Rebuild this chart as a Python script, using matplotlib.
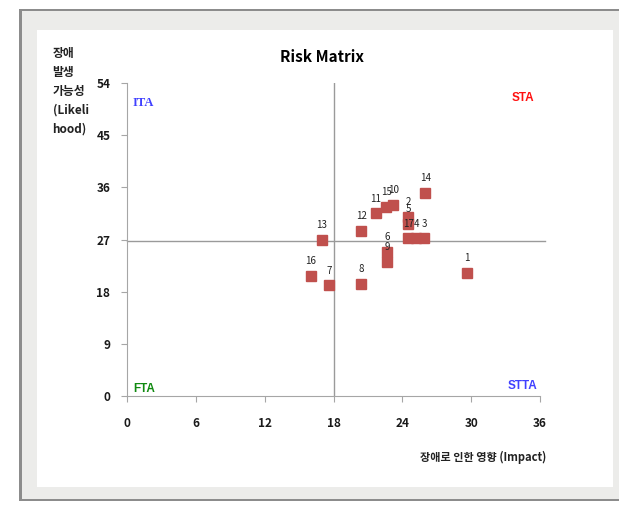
import matplotlib.pyplot as plt
from matplotlib.patches import Rectangle

# risk items: id, impact, likelihood
ids = ["1", "2", "3", "4", "5", "6", "7", "8", "9", "10", "11", "12", "13", "14", "15", "16", "17"]
impact = [29.6, 24.5, 25.9, 25.2, 24.5, 22.7, 17.6, 20.4, 22.7, 23.2, 21.7, 20.4, 17.0, 26.0, 22.6, 16.0, 24.5]
likelihood = [21.2, 30.9, 27.2, 27.2, 29.7, 24.9, 19.1, 19.3, 23.2, 33.0, 31.5, 28.5, 26.9, 35.0, 32.6, 20.7, 27.2]

x_ticks = [0, 6, 12, 18, 24, 30, 36]
y_ticks = [0, 9, 18, 27, 36, 45, 54]
x_mid = 18
y_mid = 26.7

plt.rcParams["font.family"] = ["Noto Sans CJK KR", "DejaVu Sans"]

fig = plt.figure(figsize=(6.19, 5.05), dpi=100)
fig.patch.set_facecolor("white")

# window frame look
fig.patches.append(Rectangle((0.030, 0.008), 0.975, 0.975, transform=fig.transFigure,
                             facecolor="#8c8c8c", edgecolor="none", zorder=-3))
fig.patches.append(Rectangle((0.035, 0.012), 0.97, 0.966, transform=fig.transFigure,
                             facecolor="#ececea", edgecolor="none", zorder=-2))
fig.patches.append(Rectangle((0.060, 0.036), 0.93, 0.905, transform=fig.transFigure,
                             facecolor="white", edgecolor="none", zorder=-1))

ax = fig.add_axes([0.2052, 0.2158, 0.6672, 0.6198])
ax.set_zorder(2)
ax.set_facecolor("none")

ax.axvline(x_mid, color="#9a9a9a", lw=1, zorder=1)
ax.axhline(y_mid, color="#9a9a9a", lw=1, zorder=1, xmax=1.012, clip_on=False)

ax.plot(impact, likelihood, "s", color="#c0504d", markersize=7, zorder=3, linestyle="none")
for name, xv, yv in zip(ids, impact, likelihood):
    ax.annotate(name, (xv, yv), xytext=(0, 7), textcoords="offset points",
                ha="center", va="bottom", fontsize=7, color="#222222", zorder=4)

ax.set_xlim(0, 36)
ax.set_ylim(0, 54)
ax.set_xticks(x_ticks)
ax.set_yticks(y_ticks)
for s in ["top", "right"]:
    ax.spines[s].set_visible(False)
for s in ["left", "bottom"]:
    ax.spines[s].set_color("#a6a6a6")
ax.tick_params(colors="#a6a6a6", length=4, labelcolor="#1a1a1a", labelsize=8.5)
ax.tick_params(axis="x", pad=11)
ax.tick_params(axis="y", pad=8)
for lab in ax.get_xticklabels() + ax.get_yticklabels():
    lab.set_fontweight("bold")

quad = dict(fontsize=8.5, fontweight="bold", family="Liberation Sans")
ax.text(0.5, 50.5, "ITA", color="#4040ff", ha="left", va="center",
        fontsize=9, fontweight="bold", family="Liberation Serif")
ax.text(35.5, 51.5, "STA", color="#ff1010", ha="right", va="center", **quad)
ax.text(0.5, 1.2, "FTA", color="#108a10", ha="left", va="center", **quad)
ax.text(35.8, 1.7, "STTA", color="#4040ff", ha="right", va="center", **quad)

fig.text(0.52, 0.887, "Risk Matrix", ha="center", va="center", fontsize=11, fontweight="bold")
fig.text(0.085, 0.907, "장애\n발생\n가능성\n(Likeli\nhood)", ha="left", va="top",
         fontsize=8.5, fontweight="bold", color="#222222", linespacing=1.6)
fig.text(0.78, 0.095, "장애로 인한 영향 (Impact)", ha="center", va="center",
         fontsize=8, fontweight="bold", color="#222222")

fig.savefig("out.png", dpi=100)
